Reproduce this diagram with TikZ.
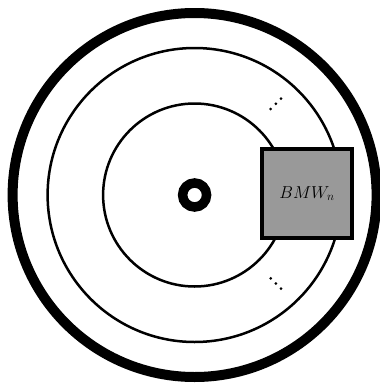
\documentclass[tikz,border=0pt]{standalone}
\begin{document}
\begin{tikzpicture}[x=1pt,y=-1pt,
  ring/.style={draw=black,line width=2.5pt},
  bmwbox/.style={draw=black,fill=black!40,line width=4pt,minimum width=90pt,minimum height=89pt,inner sep=0pt,font=\fontsize{17.5}{20}\selectfont},
  dotmark/.style={fill=black}]
\useasboundingbox (0,0) rectangle (380,383);
\coordinate (c) at (194.6,195);
\draw[line width=10pt] (c) circle (182);
\draw[ring] (c) circle (147);
\draw[ring] (c) circle (91.5);
\draw[line width=9.5pt] (c) circle (12);
\node[bmwbox] (box) at (307,193.5) {$BMW_n$};
\foreach \p in {(270.7,109),(275.8,103.8),(281,98.7),(270.7,278.3),(275.8,283.5),(281,288.7)}
  \fill[dotmark] \p circle (1.5);
\end{tikzpicture}
\end{document}
